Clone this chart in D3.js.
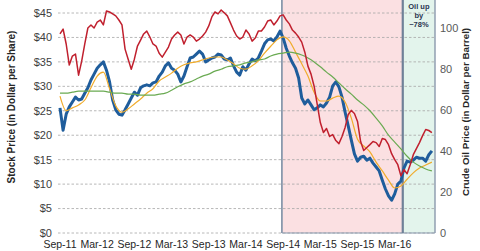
<!DOCTYPE html>
<html>
<head>
<meta charset="utf-8">
<script src="https://cdn.jsdelivr.net/npm/d3@7/dist/d3.min.js"></script>
<style>
  html, body { margin: 0; padding: 0; background: #ffffff; }
  svg { display: block; font-family: "Liberation Sans", Arial, sans-serif; }
</style>
</head>
<body>
<svg id="chart" width="480" height="251"></svg>
<script>
// ---- data (month index: 0 = Sep-2011) ----
const tickLabels = ["Sep-11","Mar-12","Sep-12","Mar-13","Sep-13","Mar-14","Sep-14","Mar-15","Sep-15","Mar-16"];
const tickMonths = [0, 6, 12, 18, 24, 30, 36, 42, 48, 54];
const leftTicks = [0, 5, 10, 15, 20, 25, 30, 35, 40, 45];
const rightTicks = [0, 20, 40, 60, 80, 100];
const phaseMonths = [35.8, 55.3, 60.5];          // oil peak, oil bottom, chart end
const phaseNote = ["Oil up", "by", "~78%"];

// daily series sampled every half month
const stockPrice = [25.6,21.0,24.3,25.8,26.8,27.8,27.2,27.4,28.6,29.7,
31.3,32.5,33.7,34.4,35.0,33.3,30.9,27.2,25.2,24.3,
24.1,25.2,26.4,27.6,28.8,28.2,29.7,30.1,30.3,30.1,
30.7,30.9,32.1,32.9,34.2,34.8,33.7,33.3,32.5,30.9,
32.1,34.0,35.8,36.0,36.6,37.2,36.6,35.0,35.4,35.8,
36.0,36.6,36.4,35.6,35.4,35.8,34.2,32.9,32.3,34.0,
33.3,34.6,35.6,35.2,35.8,37.2,38.7,39.5,39.7,39.3,
40.1,41.3,39.9,37.8,36.2,34.8,33.7,31.7,27.6,26.4,
27.2,26.2,25.2,25.6,26.2,25.8,26.6,27.8,30.1,30.9,
29.9,27.8,24.7,21.9,19.0,16.2,14.7,15.5,15.7,14.9,
15.3,14.3,13.5,12.7,10.8,9.0,7.6,6.7,8.0,10.0,
10.6,13.3,14.7,14.5,14.9,15.5,15.3,15.3,14.7,16.0,
16.8];
const oilPrice = [97.1,99.5,92.2,81.9,86.3,87.3,77.0,83.8,92.2,100.0,
101.5,100.0,102.9,103.9,101.5,108.3,107.8,106.9,105.9,103.9,
101.5,89.7,84.8,79.9,84.8,91.2,94.1,97.1,98.5,95.6,
92.2,91.2,87.7,85.8,88.2,90.7,94.6,96.6,98.0,96.6,
92.2,95.6,96.6,95.6,93.6,94.6,96.1,98.0,101.0,105.4,
107.8,106.9,108.8,107.4,105.9,102.5,99.0,96.1,94.6,95.6,
99.0,97.1,93.6,95.1,98.5,98.5,100.5,103.4,103.9,101.5,
103.4,105.9,106.4,103.9,102.0,99.0,97.5,95.6,93.1,88.2,
81.4,77.5,71.6,62.7,53.9,49.0,51.0,47.1,48.0,45.1,
43.6,47.1,51.5,57.8,59.8,58.3,54.4,44.6,40.2,41.7,
43.1,44.6,44.1,42.2,46.1,45.6,43.1,38.7,35.8,33.3,
27.9,30.9,28.9,33.3,38.2,41.2,44.1,47.5,50.5,50.0,
49.0];
// moving averages sampled monthly
const shortMA = [28.0,25.0,25.6,26.2,27.2,29.7,32.1,32.9,29.5,26.0,
24.7,25.4,26.4,27.4,28.6,29.5,31.1,31.9,32.7,33.7,
34.4,34.8,35.0,35.4,35.8,36.0,36.0,35.4,34.6,33.7,
33.5,34.2,35.2,36.8,38.2,39.5,40.1,39.3,37.0,34.6,
32.1,28.8,27.0,27.0,27.6,28.0,26.8,23.5,19.2,17.8,
16.6,14.5,12.7,10.8,9.2,9.6,11.0,12.3,13.3,13.9,
14.5];
const longMA = [28.6,28.6,28.8,29.0,29.0,29.0,29.0,29.0,28.8,28.6,
28.6,28.4,28.4,28.2,28.2,28.2,28.4,28.6,29.2,29.9,
30.5,30.9,31.5,32.1,32.5,33.1,33.5,34.0,34.2,34.4,
34.8,35.0,35.4,35.6,36.2,36.6,36.8,37.0,36.8,36.4,
35.8,35.0,34.0,32.9,31.9,30.7,29.5,28.4,27.2,26.2,
25.0,23.5,21.9,20.0,18.6,17.2,15.7,14.5,13.7,13.1,
12.7];

// ---- layout ----
const svg = d3.select("#chart");
const plot = { left: 58, right: 435, top: 0, bottom: 233 };

const x = d3.scaleLinear().domain([-0.32, 60.5]).range([plot.left, plot.right]);
const yL = d3.scaleLinear().domain([0, 45]).range([233, 13]);
const yR = d3.scaleLinear().domain([0, 100]).range([233, 28]);

const halfMonth = d => d * 0.5;
const stockPts = stockPrice.map((v, i) => [halfMonth(i), v]);
const oilPts = oilPrice.map((v, i) => [halfMonth(i), v]);
const shortPts = shortMA.map((v, i) => [i, v]);
const longPts = longMA.map((v, i) => [i, v]);

// shaded phases
svg.append("rect")
  .attr("x", x(phaseMonths[0])).attr("y", plot.top)
  .attr("width", x(phaseMonths[1]) - x(phaseMonths[0]))
  .attr("height", plot.bottom - plot.top)
  .attr("fill", "#fbe0e2");
svg.append("rect")
  .attr("x", x(phaseMonths[1])).attr("y", plot.top)
  .attr("width", x(phaseMonths[2]) - x(phaseMonths[1]))
  .attr("height", plot.bottom - plot.top)
  .attr("fill", "#e3f4ec");

// gridlines
svg.append("g").selectAll("line").data(leftTicks).join("line")
  .attr("x1", plot.left).attr("x2", plot.right)
  .attr("y1", d => yL(d)).attr("y2", d => yL(d))
  .attr("stroke", "#a6a6a6").attr("stroke-width", 0.8)
  .attr("stroke-dasharray", "2.5,2");

// phase borders
const border = svg.append("g").attr("fill", "none");
border.append("line")
  .attr("x1", x(phaseMonths[0])).attr("x2", x(phaseMonths[0]))
  .attr("y1", plot.top).attr("y2", plot.bottom)
  .attr("stroke", "#8a99ad").attr("stroke-width", 1.8);
border.append("line")
  .attr("x1", x(phaseMonths[0])).attr("x2", x(phaseMonths[2]))
  .attr("y1", plot.bottom).attr("y2", plot.bottom)
  .attr("stroke", "#8a99ad").attr("stroke-width", 1.2);
border.append("line")
  .attr("x1", x(phaseMonths[1])).attr("x2", x(phaseMonths[1]))
  .attr("y1", plot.top).attr("y2", plot.bottom)
  .attr("stroke", "#6f8198").attr("stroke-width", 2.2);
border.append("line")
  .attr("x1", x(phaseMonths[2])).attr("x2", x(phaseMonths[2]))
  .attr("y1", plot.top).attr("y2", plot.bottom)
  .attr("stroke", "#8a99ad").attr("stroke-width", 1.4);

// series
const lineL = d3.line().x(d => x(d[0])).y(d => yL(d[1]));
const lineR = d3.line().x(d => x(d[0])).y(d => yR(d[1]));

svg.append("path").datum(stockPts).attr("d", lineL)
  .attr("fill", "none").attr("stroke", "#1f5d9c").attr("stroke-width", 3)
  .attr("stroke-linejoin", "round");
svg.append("path").datum(shortPts).attr("d", lineL.curve(d3.curveMonotoneX))
  .attr("fill", "none").attr("stroke", "#f0ac2c").attr("stroke-width", 1.2);
svg.append("path").datum(longPts).attr("d", lineL.curve(d3.curveMonotoneX))
  .attr("fill", "none").attr("stroke", "#6aaa52").attr("stroke-width", 1.2);
svg.append("path").datum(oilPts).attr("d", lineR)
  .attr("fill", "none").attr("stroke", "#c0202e").attr("stroke-width", 1.5)
  .attr("stroke-linejoin", "round");

// left axis labels
svg.append("g").selectAll("text").data(leftTicks).join("text")
  .attr("x", 52).attr("y", d => yL(d)).attr("dy", "0.35em")
  .attr("text-anchor", "end").attr("font-size", 11).attr("fill", "#404040")
  .text(d => "$" + d);

// right axis labels
svg.append("g").selectAll("text").data(rightTicks).join("text")
  .attr("x", 440).attr("y", d => yR(d)).attr("dy", "0.35em")
  .attr("text-anchor", "start").attr("font-size", 11).attr("fill", "#595959")
  .text(d => d);

// x labels
svg.append("g").selectAll("text").data(tickMonths).join("text")
  .attr("x", d => x(d)).attr("y", 248)
  .attr("text-anchor", "middle").attr("font-size", 10.5).attr("fill", "#262626")
  .text((d, i) => tickLabels[i]);

// axis titles
svg.append("text")
  .attr("transform", "translate(15,107) rotate(-90)")
  .attr("text-anchor", "middle").attr("font-size", 10).attr("font-weight", "bold")
  .attr("fill", "#262626")
  .text("Stock Price (in Dollar per Share)");
svg.append("text")
  .attr("transform", "translate(469,112) rotate(-90)")
  .attr("text-anchor", "middle").attr("font-size", 9.8).attr("font-weight", "bold")
  .attr("fill", "#262626")
  .text("Crude Oil Price (in Dollar per Barrel)");

// annotation
const noteX = (x(phaseMonths[1]) + x(phaseMonths[2])) / 2;
svg.append("g").selectAll("text").data(phaseNote).join("text")
  .attr("x", noteX).attr("y", (d, i) => 9 + i * 9)
  .attr("text-anchor", "middle").attr("font-size", 7.5).attr("font-weight", "bold")
  .attr("fill", "#2a3550")
  .text(d => d);
</script>
</body>
</html>
